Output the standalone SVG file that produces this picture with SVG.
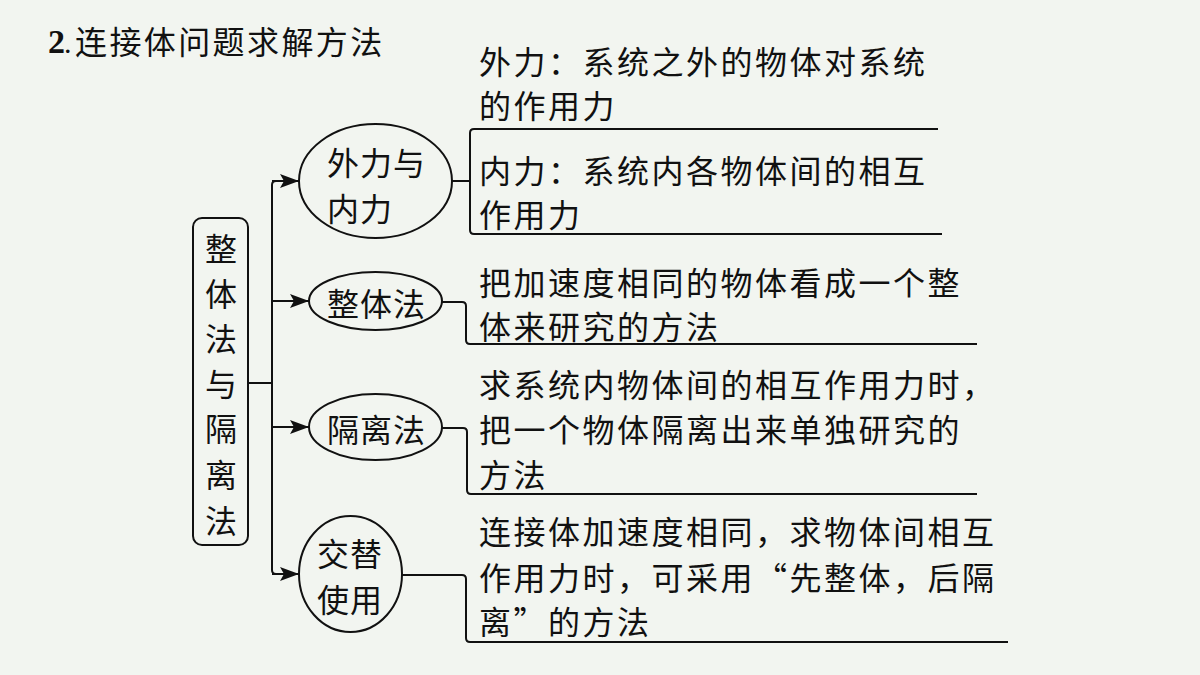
<svg xmlns="http://www.w3.org/2000/svg" width="1200" height="675" viewBox="0 0 1200 675">
<style>
.t{font-family:"Noto Sans CJK SC","Noto Sans",sans-serif;font-size:32px;fill:#111;dominant-baseline:central;letter-spacing:2.5px}
.n{font-family:"Noto Sans CJK SC","Noto Sans",sans-serif;font-size:32px;fill:#111;dominant-baseline:central;letter-spacing:1px}
.v{font-family:"Noto Sans CJK SC","Noto Sans",sans-serif;font-size:32px;fill:#111;dominant-baseline:central;text-anchor:middle}
.s{fill:none;stroke:#111;stroke-width:2}
.e{fill:none;stroke:#111;stroke-width:2}
</style>
<defs>
<marker id="arr" markerUnits="userSpaceOnUse" markerWidth="19" markerHeight="14" viewBox="0 0 19 14" refX="19" refY="7" orient="auto">
<path d="M0,0 L19,7 L0,14 L4,7 z" fill="#111"/>
</marker>
</defs>
<rect width="1200" height="675" fill="#f2f5f0"/>
<g id="title">
<text x="48" y="53" style="font-family:'Liberation Serif',serif;font-size:34px;font-weight:bold;fill:#111">2</text>
<text x="64" y="53" style="font-family:'Liberation Serif',serif;font-size:30px;fill:#111">.</text>
<text class="t" x="75" y="40" style="letter-spacing:2.4px">连接体问题求解方法</text>
</g>
<g id="connectors">
<path class="s" d="M248,383 H272"/>
<path class="s" d="M276,181 Q272,181 272,185 V570 Q272,574 276,574"/>
<path class="s" d="M272,181 H299" marker-end="url(#arr)"/>
<path class="s" d="M272,301 H309" marker-end="url(#arr)"/>
<path class="s" d="M272,427 H309" marker-end="url(#arr)"/>
<path class="s" d="M272,574 H299" marker-end="url(#arr)"/>
<path class="s" d="M452,181 H470"/>
<path class="s" d="M938,129 H474 Q470,129 470,133 V230 Q470,234 474,234 H942"/>
<path class="s" d="M442,302 H462 Q466,302 466,306 V340 Q466,344 470,344 H977"/>
<path class="s" d="M442,428 H463 Q467,428 467,432 V490 Q467,494 471,494 H977"/>
<path class="s" d="M402,575 H462 Q466,575 466,579 V638 Q466,642 470,642 H1008"/>
</g>
<g id="root">
<rect x="193" y="218" width="55" height="327" rx="9" class="e"/>
<text class="v" x="221" y="247">整</text>
<text class="v" x="221" y="292">体</text>
<text class="v" x="221" y="337">法</text>
<text class="v" x="221" y="382">与</text>
<text class="v" x="221" y="427">隔</text>
<text class="v" x="221" y="473">离</text>
<text class="v" x="221" y="519">法</text>
</g>
<g id="node-waili">
<ellipse cx="375.5" cy="181" rx="76.5" ry="57" class="e"/>
<text class="n" x="327" y="161">外力与</text>
<text class="n" x="327" y="207">内力</text>
</g>
<g id="node-zhengti">
<ellipse cx="375.5" cy="301" rx="66.5" ry="29" class="e"/>
<text class="n" x="327" y="302">整体法</text>
</g>
<g id="node-geli">
<ellipse cx="375.5" cy="427" rx="66.5" ry="33" class="e"/>
<text class="n" x="327" y="428">隔离法</text>
</g>
<g id="node-jiaoti">
<ellipse cx="350.5" cy="574" rx="51.5" ry="58" class="e"/>
<text class="n" x="317" y="552">交替</text>
<text class="n" x="317" y="598">使用</text>
</g>
<g id="desc-waili">
<text class="t" x="479" y="60">外力：系统之外的物体对系统</text>
<text class="t" x="479" y="104">的作用力</text>
<text class="t" x="479" y="169">内力：系统内各物体间的相互</text>
<text class="t" x="479" y="213">作用力</text>
</g>
<g id="desc-zhengti">
<text class="t" x="479" y="281">把加速度相同的物体看成一个整</text>
<text class="t" x="479" y="325">体来研究的方法</text>
</g>
<g id="desc-geli">
<text class="t" x="479" y="383">求系统内物体间的相互作用力时，</text>
<text class="t" x="479" y="428">把一个物体隔离出来单独研究的</text>
<text class="t" x="479" y="473">方法</text>
</g>
<g id="desc-jiaoti">
<text class="t" x="479" y="530">连接体加速度相同，求物体间相互</text>
<text class="t" x="479" y="576">作用力时，可采用“先整体，后隔</text>
<text class="t" x="479" y="620">离”的方法</text>
</g>
</svg>
